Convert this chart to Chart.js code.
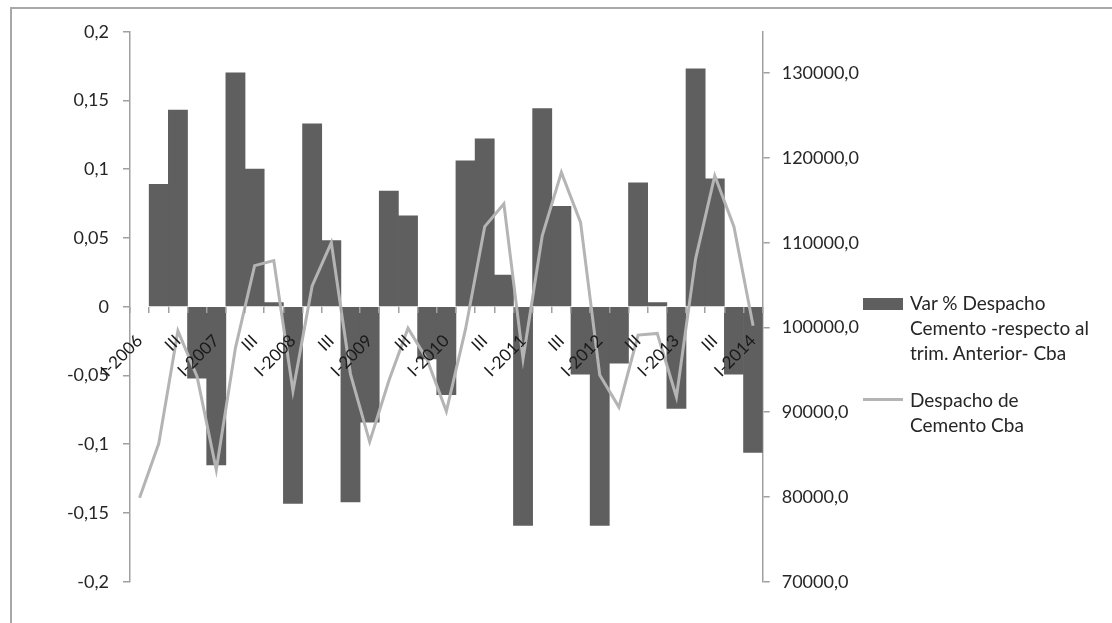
<!DOCTYPE html>
<html>
<head>
<meta charset="utf-8">
<script src="https://cdn.jsdelivr.net/npm/chart.js@4/dist/chart.umd.min.js"></script>
<style>
  body { margin: 0; background: #fff; font-family: Lato, sans-serif; }
  #wrap { position: relative; width: 1112px; height: 623px; overflow: hidden; }
  #frame { position: absolute; left: 10px; top: 7px; width: 1200px; height: 700px;
           border-top: 2px solid #a8a8a8; border-left: 2px solid #a8a8a8; }
  .legend-text { position: absolute; left: 910px; font-size: 19px; line-height: 25px; color: #262626; white-space: nowrap; }
</style>
</head>
<body>
<div id="wrap">
  <div id="frame"></div>
  <canvas id="chart" width="1112" height="623"></canvas>
  <div style="position:absolute;left:863px;top:298px;width:40px;height:12px;background:#5f5f5f"></div>
  <div class="legend-text" style="top:290px">Var % Despacho<br>Cemento -respecto al<br>trim. Anterior- Cba</div>
  <div style="position:absolute;left:863px;top:398px;width:40px;height:3px;background:#b4b4b4"></div>
  <div class="legend-text" style="top:387px">Despacho de<br>Cemento Cba</div>
</div>
<script>
'use strict'

// quarters I-2006 .. I-2014
const quarters = [
  'I-2006', 'II', 'III', 'IV',
  'I-2007', 'II', 'III', 'IV',
  'I-2008', 'II', 'III', 'IV',
  'I-2009', 'II', 'III', 'IV',
  'I-2010', 'II', 'III', 'IV',
  'I-2011', 'II', 'III', 'IV',
  'I-2012', 'II', 'III', 'IV',
  'I-2013', 'II', 'III', 'IV',
  'I-2014'
];

// Var % Despacho Cemento -respecto al trim. Anterior- Cba
const varPct = [
  null, 0.089, 0.143, -0.052,
  -0.115, 0.170, 0.100, 0.003,
  -0.143, 0.133, 0.048, -0.142,
  -0.084, 0.084, 0.066, -0.038,
  -0.064, 0.106, 0.122, 0.023,
  -0.159, 0.144, 0.073, -0.049,
  -0.159, -0.041, 0.090, 0.003,
  -0.074, 0.173, 0.093, -0.049,
  -0.106
];

// Despacho de Cemento Cba
const despacho = [
  79900, 86300, 99600, 94200,
  83200, 97600, 107300, 107900,
  92500, 104900, 110000, 94500,
  86500, 93700, 99900, 96200,
  90100, 99800, 111900, 114600,
  96300, 110800, 118300, 112400,
  94400, 90600, 99100, 99300,
  91800, 108100, 117900, 111900,
  100200
];

const leftTicks = [-0.2, -0.15, -0.1, -0.05, 0, 0.05, 0.1, 0.15, 0.2];
const rightTicks = [70000, 80000, 90000, 100000, 110000, 120000, 130000];

const tickFont = { family: 'Lato', size: 18 };
const axisGrey = '#a0a0a0';

new Chart(document.getElementById('chart'), {
  type: 'bar',
  data: {
    labels: quarters,
    datasets: [{
      type: 'line',
      label: 'Despacho de Cemento Cba',
      data: despacho,
      yAxisID: 'y1',
      borderColor: '#b4b4b4',
      borderWidth: 3,
      pointRadius: 0,
      tension: 0,
      order: 0
    }, {
      label: 'Var % Despacho Cemento -respecto al trim. Anterior- Cba',
      data: varPct,
      yAxisID: 'y',
      backgroundColor: '#5f5f5f',
      barPercentage: 1,
      categoryPercentage: 1,
      order: 1
    }]
  },
  options: {
    responsive: false,
    animation: false,
    layout: { padding: { top: 31.7, bottom: 41.3, left: 0, right: 249.3 } },
    plugins: { legend: { display: false }, tooltip: { enabled: false } },
    scales: {
      x: {
        position: { y: 0 },
        offset: true,
        border: { display: false },
        grid: { offset: true, drawOnChartArea: false, tickLength: 6, color: axisGrey, lineWidth: 1.5, z: 1 },
        ticks: {
          z: 1,
          autoSkip: false, maxRotation: 45, minRotation: 45, padding: 18,
          color: '#1a1a1a', font: { family: 'Lato', size: 17 },
          callback: (v, i) => i % 2 === 0 ? quarters[i] : ''
        }
      },
      y: {
        position: 'left',
        min: -0.2, max: 0.2,
        afterFit: s => { s.width = 130 },
        afterBuildTicks: s => { s.ticks = leftTicks.map(v => ({ value: v })) },
        border: { color: axisGrey, width: 1.5 },
        grid: { drawOnChartArea: false, tickLength: 7, color: axisGrey, lineWidth: 1.5 },
        ticks: {
          padding: 14, color: '#262626', font: tickFont,
          callback: v => String(Math.round(v * 100) / 100).replace('.', ',')
        }
      },
      y1: {
        position: 'right',
        min: 70000, max: 134900,
        afterFit: s => { s.width = 100 },
        afterBuildTicks: s => { s.ticks = rightTicks.map(v => ({ value: v })) },
        border: { color: axisGrey, width: 1.5 },
        grid: { drawOnChartArea: false, tickLength: 7, color: axisGrey, lineWidth: 1.5 },
        ticks: {
          padding: 12, color: '#262626', font: tickFont,
          callback: v => v.toFixed(1).replace('.', ',')
        }
      }
    }
  }
});
</script>
</body>
</html>
